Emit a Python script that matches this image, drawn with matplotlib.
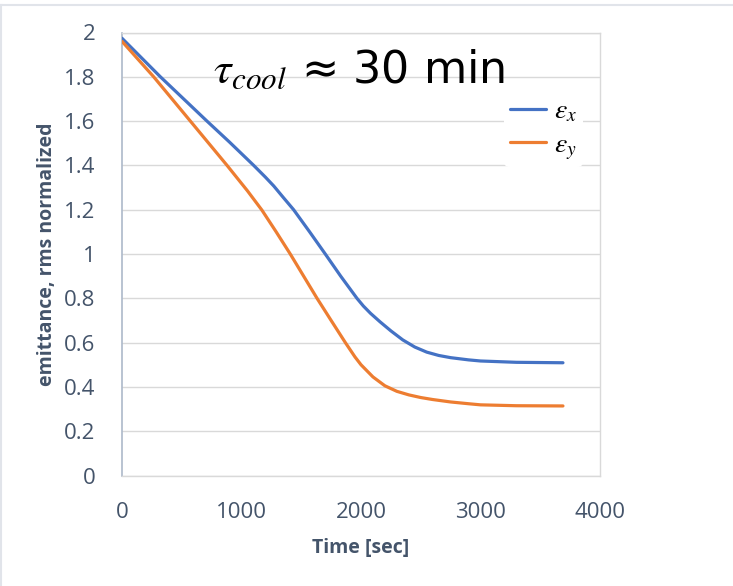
import matplotlib
matplotlib.use("Agg")
import matplotlib.pyplot as plt
from matplotlib.lines import Line2D

# Data
time_x = [0, 321, 711, 900, 1102, 1200, 1270, 1350, 1436, 1570, 1701, 1830, 1966, 2020, 2080, 2159, 2250,
          2350, 2450, 2550, 2650, 2750, 2900, 3000, 3300, 3690]
eps_x = [1.974, 1.8, 1.6, 1.505, 1.4, 1.347, 1.307, 1.255, 1.2, 1.1, 1.0, 0.9, 0.8, 0.765, 0.732, 0.694,
         0.653, 0.612, 0.58, 0.557, 0.542, 0.532, 0.522, 0.517, 0.511, 0.509]
time_y = [0, 265, 572, 879, 1050, 1171, 1290, 1408, 1520, 1632, 1750, 1869, 1950, 2000, 2100, 2200, 2300,
          2400, 2500, 2600, 2750, 2900, 3000, 3300, 3690]
eps_y = [1.96, 1.8, 1.6, 1.4, 1.285, 1.198, 1.1, 1.0, 0.9, 0.8, 0.7, 0.6, 0.535, 0.5, 0.445, 0.405, 0.38,
         0.364, 0.352, 0.343, 0.332, 0.324, 0.319, 0.315, 0.314]
x_ticks = [0, 1000, 2000, 3000, 4000]
y_ticks = [0, 0.2, 0.4, 0.6, 0.8, 1.0, 1.2, 1.4, 1.6, 1.8, 2.0]
y_tick_labels = ["0", "0.2", "0.4", "0.6", "0.8", "1", "1.2", "1.4", "1.6", "1.8", "2"]

plt.rcParams['font.family'] = ['Open Sans', 'DejaVu Sans']
plt.rcParams['mathtext.fontset'] = 'stix'

W, H = 733, 586
fig = plt.figure(figsize=(W / 100, H / 100), dpi=100)
ax = fig.add_axes([122 / W, 1 - 475.5 / H, (600 - 122) / W, (475.5 - 32.5) / H])

text_col = '#44546A'
grid_col = '#D9D9D9'

ax.plot(time_x, eps_x, color='#4472C4', lw=2.3, solid_capstyle='round', solid_joinstyle='round',
        label=r'$\varepsilon_x$', zorder=3)
ax.plot(time_y, eps_y, color='#ED7D31', lw=2.3, solid_capstyle='round', solid_joinstyle='round',
        label=r'$\varepsilon_y$', zorder=3)

ax.set_xlim(0, 4000)
ax.set_ylim(0, 2)
ax.set_xticks(x_ticks)
ax.set_yticks(y_ticks)
ax.set_yticklabels(y_tick_labels)
ax.grid(axis='y', color=grid_col, lw=1.0, zorder=0)
ax.tick_params(length=0, labelsize=16, colors=text_col)
ax.tick_params(axis='y', pad=19)
ax.tick_params(axis='x', pad=19)

for s in ['top', 'right', 'bottom']:
    ax.spines[s].set_color(grid_col)
    ax.spines[s].set_linewidth(1.0)
ax.spines['left'].set_color('#ADB9CA')
ax.spines['left'].set_linewidth(1.2)

ax.set_xlabel('Time [sec]', fontsize=14, fontweight='bold', color=text_col, labelpad=11)
ax.set_ylabel('emittance, rms normalized', fontsize=14, fontweight='bold', color=text_col, labelpad=5.5)

ax.text(1983, 1.772, r'$\tau_{cool}$' + ' ≈ 30 min', fontsize=32, ha='center', va='baseline',
        family=['DejaVu Sans'], color='black', zorder=4)

leg = ax.legend(loc='upper right', bbox_to_anchor=(0.964, 0.866), frameon=True, fontsize=20,
                handlelength=1.3, handletextpad=0.3, labelspacing=0.2, borderaxespad=0,
                borderpad=0.2)
leg.get_frame().set_edgecolor('none')
leg.get_frame().set_facecolor('white')
leg.get_frame().set_alpha(1)
for h in leg.get_lines():
    h.set_linewidth(2.3)

# chart area border (top and left)
fig.add_artist(Line2D([0, 1], [1 - 5 / H, 1 - 5 / H], color='#E1E4EA', lw=1.5, transform=fig.transFigure))
fig.add_artist(Line2D([0.5 / W, 0.5 / W], [0, 1 - 5 / H], color='#E1E4EA', lw=1.5, transform=fig.transFigure))

fig.savefig('out.png', dpi=100)
